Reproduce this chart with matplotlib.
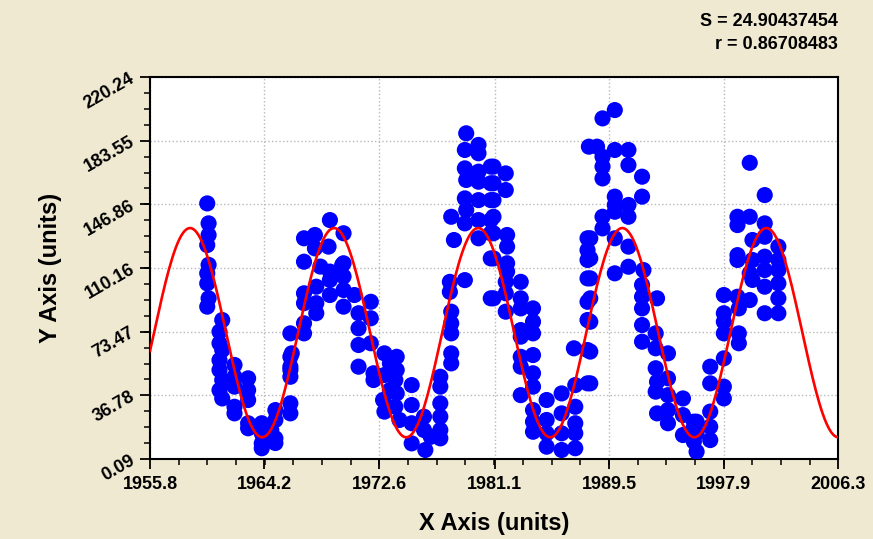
"""
Scatter of yearly sunspot-like readings with a fitted sine curve.
"""

import numpy as np
import matplotlib.pyplot as plt

plt.rcParams['font.family'] = ['Liberation Sans', 'DejaVu Sans']

x_obs = [
    1960.0, 1960.1, 1960.1, 1960.0, 1960.1, 1960.0, 1960.0, 1960.1, 1960.0,
    1961.1, 1960.9, 1960.9, 1961.1, 1960.9, 1960.9, 1961.1, 1960.9, 1961.1,
    1962.0, 1962.0, 1962.0, 1962.0, 1962.0,
    1963.0, 1963.0, 1963.0, 1963.0, 1963.0,
    1964.0, 1964.0, 1964.0, 1964.0, 1964.7,
    1965.0, 1965.0, 1965.0, 1965.0,
    1966.1, 1966.1, 1966.1, 1966.1, 1966.1, 1966.1, 1966.2, 1966.1,
    1967.1, 1967.9, 1967.1, 1967.1, 1967.1, 1967.1, 1967.1,
    1967.9, 1968.0, 1968.0, 1968.0, 1968.3, 1969.0, 1968.9, 1969.0, 1969.0,
    1969.0, 1969.9,
    1970.0, 1970.0, 1970.0, 1970.0, 1970.0,
    1970.8, 1971.1, 1971.1, 1971.1, 1971.1, 1972.0, 1972.0, 1972.0, 1972.2,
    1972.2,
    1973.0, 1973.0, 1973.4, 1972.9, 1973.0, 1973.4,
    1973.9, 1973.9, 1973.8, 1973.9, 1973.8, 1974.1,
    1975.0, 1975.0, 1975.0, 1975.0, 1975.9, 1975.9, 1976.0, 1976.4,
    1977.1, 1977.1, 1977.1, 1977.1, 1977.1, 1977.1,
    1977.9, 1977.9, 1977.9, 1977.9, 1977.9, 1977.8, 1977.8, 1978.9, 1978.1,
    1977.9,
    1979.0, 1978.9, 1979.9, 1979.9, 1978.9, 1979.0, 1978.9, 1979.0, 1978.9,
    1979.9, 1979.9, 1979.9, 1979.9, 1979.9,
    1980.8, 1980.8, 1980.8, 1980.8, 1980.8, 1980.8, 1980.8,
    1981.0, 1981.9, 1981.9, 1981.0, 1981.0, 1981.0, 1981.0, 1982.0, 1982.0,
    1981.0, 1982.0, 1982.0, 1981.0, 1981.9, 1981.9, 1981.9,
    1983.0, 1983.0, 1983.0, 1983.0, 1983.0, 1983.0, 1983.0,
    1983.9, 1983.9, 1983.9, 1983.9, 1983.9, 1983.9, 1983.0, 1983.9, 1983.9,
    1983.9,
    1984.9, 1984.9, 1984.9, 1984.9, 1986.0, 1986.0, 1986.0, 1986.0,
    1987.0, 1987.0, 1987.0, 1987.0, 1987.0, 1986.9, 1987.9, 1987.9, 1987.9,
    1987.9, 1987.9, 1987.9, 1987.9, 1987.9, 1988.0,
    1989.0, 1989.9, 1988.6, 1989.0, 1989.0, 1989.0, 1989.9, 1990.9, 1990.9,
    1991.9, 1991.9, 1989.9, 1989.9, 1989.0, 1989.0, 1989.9, 1990.9, 1990.9,
    1989.9, 1990.9, 1988.1, 1988.1, 1988.1, 1988.1, 1988.1, 1988.1, 1988.1,
    1989.9, 1990.9,
    1992.0, 1991.9, 1991.9, 1991.9, 1993.0, 1991.9, 1991.9, 1992.9, 1992.9,
    1992.9, 1993.0, 1992.9, 1993.0, 1993.8, 1993.8, 1993.8, 1993.8, 1993.8,
    1994.9, 1994.9, 1994.9, 1995.7, 1995.7,
    1995.9, 1995.9, 1995.9, 1995.6, 1996.9, 1996.9, 1996.9, 1996.9, 1996.9,
    1997.9, 1997.9, 1997.9, 1997.9, 1997.9, 1997.9, 1997.9,
    1999.0, 1999.0, 1999.0, 1998.9, 1998.9, 1998.9, 1998.9, 1998.9,
    1999.8, 1999.8, 2000.0, 2000.0, 1999.8, 2000.0, 1999.8,
    2000.9, 2000.9, 2000.9, 2000.9, 2000.9, 2000.9, 2000.9,
    2001.9, 2001.9, 2001.9, 2001.9, 2001.9, 2001.9,
]
y_obs = [
    147.4, 135.9, 129.2, 123.4, 112.0, 107.1, 101.3, 92.7, 87.9,
    80.2, 73.5, 66.8, 62.9, 57.1, 51.4, 45.6, 39.8, 35.0,
    54.3, 47.5, 41.8, 30.2, 26.4,
    46.6, 39.8, 34.1, 20.7, 17.8,
    20.7, 14.9, 9.1, 6.3, 16.8,
    28.3, 22.6, 12.0, 9.3,
    72.5, 59.0, 53.3, 47.5, 32.2, 26.4, 61.0, 51.4,
    127.3, 129.2, 113.8, 95.6, 89.9, 78.3, 72.5,
    121.5, 99.4, 89.9, 84.1, 111.0, 137.8, 122.5, 108.1, 103.3,
    94.6, 111.9,
    130.2, 112.9, 105.3, 97.5, 87.9,
    94.6, 84.1, 75.4, 65.8, 53.3, 90.7, 81.2, 66.8, 45.6,
    49.5,
    61.0, 48.5, 55.2, 34.1, 27.4, 39.8,
    59.0, 51.4, 45.6, 37.9, 30.2, 22.6,
    42.7, 31.2, 20.7, 9.1, 24.5, 16.8, 5.3, 12.9,
    47.5, 41.8, 32.2, 24.5, 16.8, 12.0,
    61.0, 55.2, 72.5, 78.3, 85.0, 96.4, 102.2, 103.2, 126.3,
    139.7,
    187.8, 178.2, 181.1, 176.3, 167.6, 160.9, 150.3, 143.6, 135.9,
    165.7, 159.9, 149.3, 137.8, 127.3,
    168.6, 159.0, 149.3, 137.8, 130.2, 115.7, 92.7,
    168.6, 164.7, 155.1, 159.0, 149.3, 139.7, 130.2, 129.2, 122.5,
    115.7, 112.9, 108.1, 92.7, 102.2, 95.6, 85.0,
    102.2, 92.7, 86.9, 74.4, 70.6, 59.0, 53.3,
    86.9, 79.2, 72.5, 60.0, 49.5, 41.8, 36.9, 28.3, 21.6,
    15.8,
    34.1, 22.6, 14.9, 7.2, 37.9, 26.4, 14.9, 5.3,
    20.7, 14.9, 6.3, 30.2, 42.7, 63.9, 62.9, 43.7, 80.2,
    90.7, 104.2, 114.8, 120.5, 127.3, 180.1,
    196.4, 201.2, 180.1, 174.3, 168.6, 161.8, 178.2, 178.2, 169.5,
    162.8, 151.3, 151.3, 146.5, 139.7, 133.0, 142.6, 146.5, 139.7,
    127.3, 122.5, 127.3, 115.7, 104.2, 92.7, 79.2, 62.0, 43.7,
    107.1, 110.9,
    109.0, 100.4, 93.6, 86.9, 92.7, 77.3, 67.7, 72.5, 63.9,
    52.4, 44.6, 38.9, 26.4, 61.0, 46.6, 36.9, 28.3, 20.7,
    35.0, 25.4, 13.9, 21.6, 10.1,
    21.6, 14.9, 4.3, 16.8, 27.4, 18.7, 11.0, 53.3, 43.7,
    41.8, 35.0, 58.1, 72.5, 79.2, 84.1, 94.6,
    72.5, 66.8, 86.9, 93.6, 114.8, 117.6, 139.7, 134.9,
    139.7, 170.8, 126.3, 114.8, 107.1, 103.3, 91.7,
    152.2, 135.9, 128.2, 116.7, 109.0, 99.4, 84.1,
    122.5, 114.8, 101.3, 92.7, 84.1, 109.0,
]

# fitted sine model: y = mean + amp * cos(2*pi*(x - peak) / period)
fit_mean = 72.9
fit_amp = 60.3
fit_peak = 1958.74
fit_period = 10.57
fit_S = "24.90437454"
fit_r = "0.86708483"

x_ticks = [1955.8, 1964.2, 1972.6, 1981.1, 1989.5, 1997.9, 2006.3]
y_ticks = [0.09, 36.78, 73.47, 110.16, 146.86, 183.55, 220.24]

bg = '#efe9d1'
fig = plt.figure(figsize=(8.73, 5.39), dpi=100, facecolor=bg)
ax = fig.add_axes([0.1718, 0.1484, 0.7885, 0.7087])
ax.set_facecolor('white')

ax.scatter(x_obs, y_obs, s=135, color='#0000ff', edgecolors='none', zorder=3)

x_fit = np.linspace(x_ticks[0], x_ticks[-1], 400)
y_fit = fit_mean + fit_amp * np.cos(2 * np.pi * (x_fit - fit_peak) / fit_period)
ax.plot(x_fit, y_fit, color='#ff0000', linewidth=1.9, zorder=4)

ax.set_xlim(x_ticks[0], x_ticks[-1])
ax.set_ylim(y_ticks[0], y_ticks[-1])
ax.set_xticks(x_ticks)
ax.set_xticklabels([f'{t:.1f}' for t in x_ticks], fontsize=13, fontweight='bold')
ax.set_yticks(y_ticks)
ax.set_yticklabels([f'{t:.2f}' for t in y_ticks], fontsize=13, fontweight='bold',
                   rotation=30, ha='right', va='center', rotation_mode='anchor')
ax.set_xticks(np.linspace(x_ticks[0], x_ticks[-1], 25), minor=True)
ax.set_yticks(np.linspace(y_ticks[0], y_ticks[-1], 25), minor=True)
ax.tick_params(which='major', direction='out', length=7, width=1.3, pad=5)
ax.tick_params(which='minor', direction='out', length=4, width=1.1)
ax.grid(True, which='major', linestyle=':', color='#b8b8b8', linewidth=1)
for sp in ax.spines.values():
    sp.set_linewidth(1.5)

ax.set_xlabel('X Axis (units)', fontsize=17, fontweight='bold', labelpad=14)
ax.set_ylabel('Y Axis (units)', fontsize=17, fontweight='bold', labelpad=14)

fig.text(0.960, 0.960, f'S = {fit_S}', ha='right', va='center',
         fontsize=13, fontweight='bold')
fig.text(0.960, 0.917, f'r = {fit_r}', ha='right', va='center',
         fontsize=13, fontweight='bold')

fig.savefig('out.png', dpi=100, facecolor=bg)
